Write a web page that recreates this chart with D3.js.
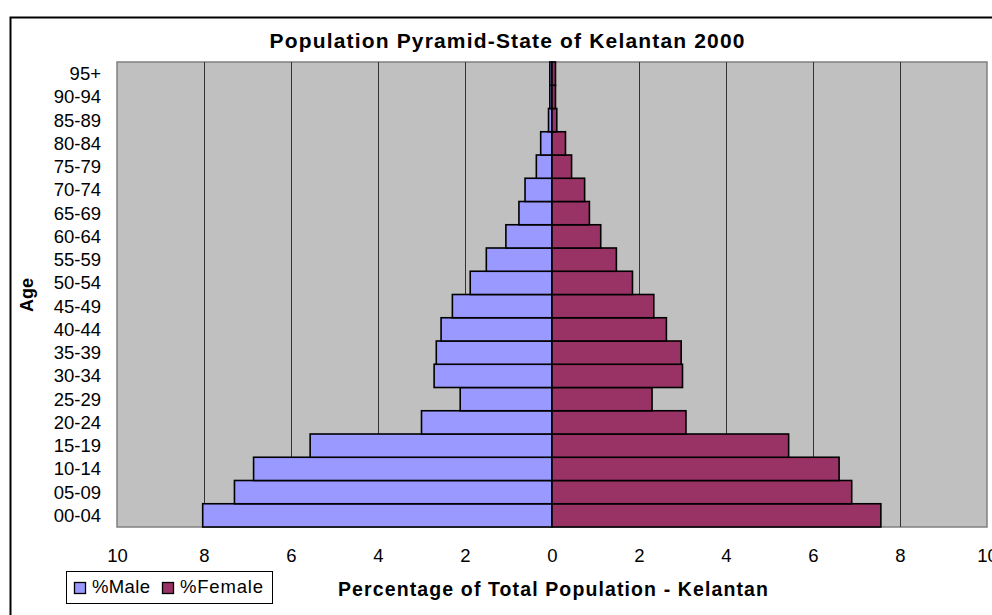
<!DOCTYPE html>
<html>
<head>
<meta charset="utf-8">
<script src="https://cdn.jsdelivr.net/npm/d3@7"></script>
<style>
  html, body { margin: 0; padding: 0; background: #ffffff; }
  svg { display: block; }
  text { font-family: "Liberation Sans", Arial, sans-serif; fill: #000; }
</style>
</head>
<body>
<svg id="chart" width="992" height="615"></svg>
<script>
// ---- data (bottom to top) ----
const ageGroups = ["00-04","05-09","10-14","15-19","20-24","25-29","30-34","35-39","40-44","45-49",
                   "50-54","55-59","60-64","65-69","70-74","75-79","80-84","85-89","90-94","95+"];
const malePct   = [8.03, 7.30, 6.86, 5.56, 3.00, 2.11, 2.71, 2.66, 2.55, 2.29,
                   1.88, 1.51, 1.06, 0.76, 0.62, 0.36, 0.26, 0.08, 0.05, 0.05];
const femalePct = [7.56, 6.89, 6.60, 5.44, 3.08, 2.30, 3.00, 2.97, 2.63, 2.34,
                   1.85, 1.48, 1.12, 0.86, 0.75, 0.45, 0.31, 0.11, 0.08, 0.08];
const xTicks = [-10, -8, -6, -4, -2, 0, 2, 4, 6, 8, 10];
const seriesNames = ["%Male", "%Female"];
const titleText = "Population Pyramid-State of Kelantan 2000";
const xTitleText = "Percentage of Total Population - Kelantan";
const yTitleText = "Age";

const colors = { male: "#9999FF", female: "#993366" };

const svg = d3.select("#chart");
const plot = { left: 117, right: 987, top: 62, bottom: 527 };

// outer chart frame (extends beyond viewport on right/bottom)
svg.append("rect")
  .attr("x", 10.5).attr("y", 17.5)
  .attr("width", 1100).attr("height", 700)
  .attr("fill", "#fff").attr("stroke", "#000").attr("stroke-width", 2);

const x = d3.scaleLinear().domain([-10, 10]).range([plot.left, plot.right]);
const y = d3.scaleBand().domain(ageGroups.slice().reverse())
  .range([plot.top, plot.bottom]).paddingInner(0).paddingOuter(0);

// plot area background
svg.append("rect")
  .attr("x", plot.left).attr("y", plot.top)
  .attr("width", plot.right - plot.left).attr("height", plot.bottom - plot.top)
  .attr("fill", "#C0C0C0").attr("stroke", "#808080").attr("stroke-width", 1.5);

// gridlines
svg.append("g").selectAll("line")
  .data(xTicks.filter(t => t !== -10 && t !== 10))
  .join("line")
  .attr("x1", d => Math.round(x(d)) + 0.5).attr("x2", d => Math.round(x(d)) + 0.5)
  .attr("y1", plot.top).attr("y2", plot.bottom)
  .attr("stroke", "#333").attr("stroke-width", 1);

// bars
const gBars = svg.append("g");
gBars.selectAll("rect.male")
  .data(ageGroups.map((a, i) => ({ age: a, v: malePct[i] })))
  .join("rect").attr("class", "male")
  .attr("x", d => x(-d.v)).attr("width", d => x(0) - x(-d.v))
  .attr("y", d => y(d.age)).attr("height", y.bandwidth())
  .attr("fill", colors.male).attr("stroke", "#000").attr("stroke-width", 1.6);
gBars.selectAll("rect.female")
  .data(ageGroups.map((a, i) => ({ age: a, v: femalePct[i] })))
  .join("rect").attr("class", "female")
  .attr("x", x(0)).attr("width", d => x(d.v) - x(0))
  .attr("y", d => y(d.age)).attr("height", y.bandwidth())
  .attr("fill", colors.female).attr("stroke", "#000").attr("stroke-width", 1.6);

// y axis labels
const yAxis = d3.axisLeft(y).tickSize(0).tickPadding(0);
const gy = svg.append("g").attr("transform", `translate(101,0)`).call(yAxis);
gy.select(".domain").remove();
gy.selectAll("text").attr("font-size", "18.5px")
  .attr("font-family", "Liberation Sans, Arial, sans-serif").attr("dy", "0.35em");

// x axis labels
const xAxis = d3.axisBottom(x).tickValues(xTicks).tickSize(0).tickPadding(0)
  .tickFormat(d => Math.abs(d));
const gx = svg.append("g").attr("transform", `translate(0,562)`).call(xAxis);
gx.select(".domain").remove();
gx.selectAll("text").attr("font-size", "18.5px")
  .attr("font-family", "Liberation Sans, Arial, sans-serif").attr("dy", 0).attr("y", 0);

// title
svg.append("text").attr("x", 507).attr("y", 48).attr("text-anchor", "middle")
  .attr("font-size", "21px").attr("font-weight", "bold")
  .attr("textLength", 475).attr("lengthAdjust", "spacing").text(titleText);

// x axis title
svg.append("text").attr("x", 553).attr("y", 596).attr("text-anchor", "middle")
  .attr("font-size", "19.5px").attr("font-weight", "bold")
  .attr("textLength", 430).attr("lengthAdjust", "spacing").text(xTitleText);

// y axis title
svg.append("text").attr("transform", "translate(33,295) rotate(-90)")
  .attr("text-anchor", "middle").attr("font-size", "18px").attr("font-weight", "bold")
  .text(yTitleText);

// legend
const lg = svg.append("g");
lg.append("rect").attr("x", 66.5).attr("y", 571.5).attr("width", 206).attr("height", 32)
  .attr("fill", "#fff").attr("stroke", "#000").attr("stroke-width", 1);
const legendItems = [
  { name: seriesNames[0], color: colors.male, sx: 74, tx: 92, len: 58 },
  { name: seriesNames[1], color: colors.female, sx: 162, tx: 180, len: 83 }
];
legendItems.forEach(it => {
  lg.append("rect").attr("x", it.sx + 0.5).attr("y", 582.5).attr("width", 11).attr("height", 11)
    .attr("fill", it.color).attr("stroke", "#000").attr("stroke-width", 1.3);
  lg.append("text").attr("x", it.tx).attr("y", 593).attr("font-size", "18.5px")
    .attr("textLength", it.len).attr("lengthAdjust", "spacing").text(it.name);
});
</script>
</body>
</html>
